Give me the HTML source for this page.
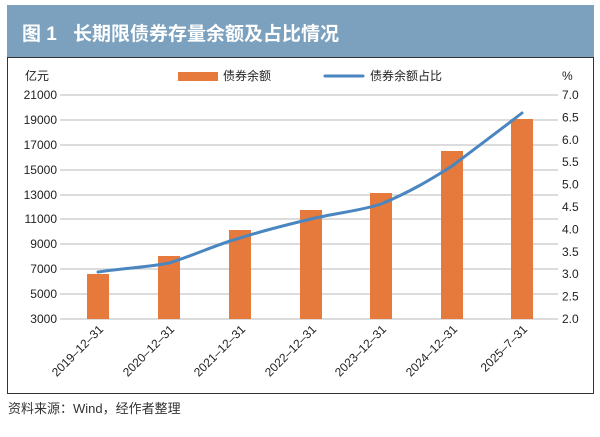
<!DOCTYPE html>
<html><head><meta charset="utf-8"><style>
body{margin:0;width:600px;height:432px;background:#fff;overflow:hidden;font-family:"Liberation Sans","Noto Sans CJK SC",sans-serif}
</style></head><body>
<svg width="600" height="432" xmlns="http://www.w3.org/2000/svg" font-family="Liberation Sans, Noto Sans CJK SC, sans-serif">
<rect x="7" y="5" width="587" height="52" fill="#7ba1bf"/>
<text x="22" y="40" font-size="19" font-weight="bold" fill="#fff">图 1</text>
<text x="73" y="40" font-size="19" font-weight="bold" fill="#fff">长期限债券存量余额及占比情况</text>
<rect x="7.5" y="57.5" width="586" height="336" fill="none" stroke="#333" stroke-width="1"/>
<text x="25" y="80" font-size="12" fill="#222">亿元</text>
<text x="562" y="80" font-size="12" fill="#222">%</text>
<rect x="178" y="72" width="40" height="9" fill="#e57a3c"/>
<text x="223" y="80" font-size="12" fill="#222">债券余额</text>
<line x1="325" y1="76" x2="363" y2="76" stroke="#4a86c0" stroke-width="3" stroke-linecap="round"/>
<text x="370" y="80" font-size="12" fill="#222">债券余额占比</text>
<g stroke="#c8c8c8" stroke-width="1.3">
<line x1="60" y1="95" x2="558" y2="95"/><line x1="60" y1="120" x2="558" y2="120"/><line x1="60" y1="145" x2="558" y2="145"/><line x1="60" y1="170" x2="558" y2="170"/><line x1="60" y1="195" x2="558" y2="195"/><line x1="60" y1="219" x2="558" y2="219"/><line x1="60" y1="244" x2="558" y2="244"/><line x1="60" y1="269" x2="558" y2="269"/><line x1="60" y1="294" x2="558" y2="294"/><line x1="60" y1="319" x2="558" y2="319"/>
</g>
<g font-size="12" fill="#222" text-anchor="end">
<text x="57" y="99">21000</text><text x="57" y="124">19000</text><text x="57" y="149">17000</text><text x="57" y="174">15000</text><text x="57" y="199">13000</text><text x="57" y="223">11000</text><text x="57" y="248">9000</text><text x="57" y="273">7000</text><text x="57" y="298">5000</text><text x="57" y="323">3000</text>
</g>
<g font-size="12" fill="#222">
<text x="562" y="99">7.0</text><text x="562" y="121.4">6.5</text><text x="562" y="143.8">6.0</text><text x="562" y="166.2">5.5</text><text x="562" y="188.6">5.0</text><text x="562" y="211">4.5</text><text x="562" y="233.4">4.0</text><text x="562" y="255.8">3.5</text><text x="562" y="278.2">3.0</text><text x="562" y="300.6">2.5</text><text x="562" y="323">2.0</text>
</g>
<g fill="#e57a3c">
<rect x="87" y="274" width="22" height="45"/>
<rect x="158" y="256" width="22" height="63"/>
<rect x="229" y="230" width="22" height="89"/>
<rect x="300" y="210" width="22" height="109"/>
<rect x="370" y="193" width="22" height="126"/>
<rect x="441" y="151" width="22" height="168"/>
<rect x="511" y="119" width="22" height="200"/>
</g>
<path d="M98 272 C125 268,150 267,169 263 C195 255,215 245,240 238 C265 230,290 224,311 219 C335 213,360 211,381 204 C410 192,430 180,452 166 C480 145,500 130,522 113" fill="none" stroke="#4a86c0" stroke-width="3" stroke-linecap="round"/>
<g font-size="12" fill="#222" text-anchor="end">
<text transform="translate(104,330) rotate(-45)">2019–12–31</text>
<text transform="translate(175,330) rotate(-45)">2020–12–31</text>
<text transform="translate(246,330) rotate(-45)">2021–12–31</text>
<text transform="translate(317,330) rotate(-45)">2022–12–31</text>
<text transform="translate(387,330) rotate(-45)">2023–12–31</text>
<text transform="translate(458,330) rotate(-45)">2024–12–31</text>
<text transform="translate(528,330) rotate(-45)">2025–7–31</text>
</g>
<text x="8" y="413" font-size="13" fill="#333">资料来源：Wind，经作者整理</text>
</svg>
</body></html>
